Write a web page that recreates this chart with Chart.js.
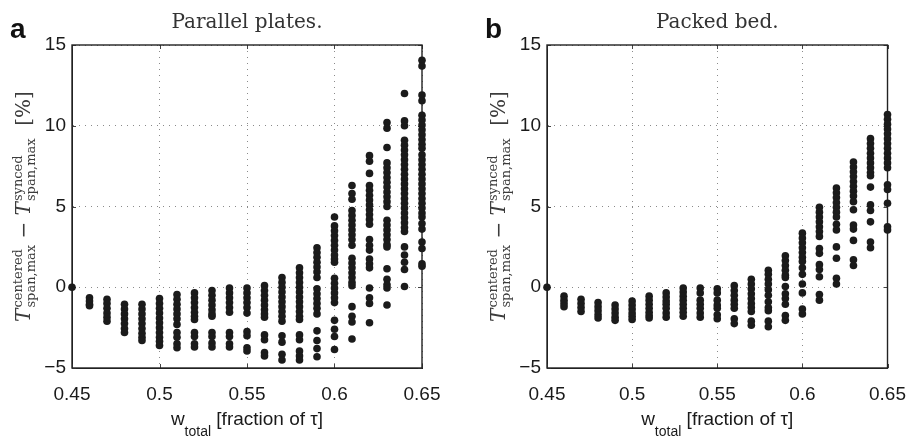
<!DOCTYPE html>
<html><head><meta charset="utf-8">
<script src="https://cdn.jsdelivr.net/npm/chart.js@4.4.0/dist/chart.umd.min.js"></script>
<style>
html,body{margin:0;padding:0;background:#fff;}
#wrap{position:relative;width:921px;height:444px;overflow:hidden;}
canvas{position:absolute;top:0;}
#ca{left:0;}
#cb{left:460px;}
</style></head><body>
<div id="wrap"><canvas id="ca" width="460" height="444"></canvas><canvas id="cb" width="461" height="444"></canvas></div>
<script>
// ---- data ----
const xCategories = [0.45,0.46,0.47,0.48,0.49,0.50,0.51,0.52,0.53,0.54,0.55,0.56,0.57,0.58,0.59,0.60,0.61,0.62,0.63,0.64,0.65];
const xTickValues = [0.45,0.5,0.55,0.6,0.65];
const xTickLabels = ['0.45','0.5','0.55','0.6','0.65'];
const yTickValues = [-5,0,5,10,15];
const yTickLabels = ['\u22125','0','5','10','15'];
const panelTitles = ['Parallel plates.','Packed bed.'];
const panelLetters = ['a','b'];

// Parallel plates: y values per x column
const platesY = [
  [0],
  [-0.65,-0.85,-1.05,-1.15],
  [-0.75,-1.0,-1.3,-1.6,-1.85,-2.1],
  [-1.05,-1.35,-1.65,-1.95,-2.25,-2.55,-2.8],
  [-1.05,-1.35,-1.65,-1.95,-2.25,-2.55,-2.85,-3.1,-3.3],
  [-0.7,-1.0,-1.3,-1.6,-1.9,-2.2,-2.5,-2.8,-3.1,-3.35,-3.6],
  [-0.45,-0.75,-1.05,-1.35,-1.65,-1.95,-2.3,-2.8,-3.1,-3.5,-3.75],
  [-0.35,-0.65,-0.95,-1.25,-1.55,-1.8,-2.0,-2.8,-3.05,-3.5,-3.7],
  [-0.2,-0.5,-0.8,-1.1,-1.4,-1.65,-1.8,-2.8,-3.05,-3.45,-3.7],
  [-0.05,-0.35,-0.65,-0.95,-1.25,-1.55,-2.8,-3.05,-3.5,-3.7],
  [-0.05,-0.35,-0.65,-0.95,-1.25,-1.6,-2.75,-3.0,-3.75,-3.95],
  [0.1,-0.2,-0.5,-0.8,-1.1,-1.4,-1.65,-1.85,-2.95,-3.25,-4.05,-4.25],
  [0.6,0.3,0.0,-0.3,-0.6,-0.9,-1.2,-1.5,-1.8,-2.1,-3.0,-3.4,-4.15,-4.5],
  [1.2,0.9,0.6,0.3,0.0,-0.3,-0.6,-0.9,-1.2,-1.5,-1.8,-2.0,-2.95,-3.25,-3.95,-4.25,-4.5],
  [2.45,2.15,1.85,1.55,1.25,0.95,0.6,-0.1,-0.4,-0.7,-1.0,-1.3,-1.65,-2.7,-3.3,-3.8,-4.3],
  [4.35,3.8,3.5,3.2,2.9,2.6,2.3,2.0,1.75,1.55,0.55,0.25,-0.05,-0.35,-0.65,-0.95,-2.05,-2.6,-3.05,-3.85],
  [6.3,5.8,5.45,4.75,4.45,4.15,3.85,3.55,3.25,2.95,2.6,1.8,1.5,1.2,0.9,0.6,0.3,0.1,-1.2,-1.8,-2.15,-3.2],
  [8.15,7.8,7.05,6.3,6.0,5.7,5.4,5.1,4.8,4.5,4.2,3.9,2.95,2.6,2.3,1.75,1.45,1.2,-0.05,-0.65,-1.0,-2.2],
  [10.2,9.85,8.65,7.7,7.4,7.1,6.8,6.5,6.2,5.9,5.6,5.3,5.0,4.15,3.85,3.55,3.25,2.95,2.65,2.5,1.15,0.5,0.15,-0.05,-1.1],
  [12.0,10.3,10.0,9.1,8.8,8.5,8.2,7.9,7.6,7.3,7.0,6.7,6.4,6.1,5.8,5.5,5.2,4.9,4.6,4.3,4.0,3.7,3.45,2.5,2.0,1.55,1.1,0.05],
  [14.05,13.7,11.9,11.55,10.65,10.35,10.05,9.75,9.45,9.15,8.85,8.6,8.2,7.9,7.6,7.3,7.0,6.7,6.4,6.1,5.8,5.5,5.2,4.9,4.6,4.35,3.95,3.6,2.8,2.4,1.45,1.3]
];

// Packed bed: y values per x column
const bedY = [
  [0],
  [-0.55,-0.8,-1.0,-1.2],
  [-0.75,-1.0,-1.25,-1.5],
  [-0.95,-1.2,-1.45,-1.7,-1.9],
  [-1.1,-1.35,-1.6,-1.85,-2.05],
  [-0.85,-1.1,-1.35,-1.6,-1.8,-2.0],
  [-0.55,-0.8,-1.05,-1.3,-1.55,-1.75,-1.9],
  [-0.35,-0.6,-0.85,-1.05,-1.3,-1.6,-1.85],
  [-0.05,-0.3,-0.55,-0.8,-1.05,-1.3,-1.55,-1.8],
  [-0.05,-0.35,-0.8,-1.05,-1.3,-1.6,-1.85],
  [-0.1,-0.35,-0.8,-1.1,-1.3,-1.7,-1.95],
  [0.1,-0.2,-0.5,-0.8,-1.05,-1.3,-1.95,-2.25],
  [0.5,0.2,-0.1,-0.4,-0.7,-1.0,-1.25,-1.5,-2.1,-2.35],
  [1.05,0.8,0.5,0.2,-0.15,-0.5,-0.9,-1.25,-1.45,-2.1,-2.45],
  [1.95,1.65,1.35,1.05,0.75,0.6,0.05,-0.4,-0.7,-1.05,-1.75,-2.05],
  [3.35,3.05,2.75,2.45,2.15,1.85,1.6,1.2,0.8,0.2,-0.35,-1.35,-1.65],
  [4.95,4.65,4.35,4.05,3.75,3.45,3.15,2.4,2.1,1.4,1.1,0.65,-0.45,-0.8],
  [6.15,5.85,5.55,5.25,4.95,4.65,4.35,3.9,3.55,2.5,1.8,0.55,0.2],
  [7.75,7.45,7.15,6.85,6.55,6.25,5.95,5.65,5.3,4.8,3.85,3.6,2.9,1.7,1.35],
  [9.2,8.9,8.6,8.3,8.0,7.7,7.4,7.1,6.9,6.2,5.1,4.75,4.05,2.8,2.45],
  [10.7,10.4,10.1,9.8,9.5,9.2,8.9,8.6,8.3,8.0,7.7,7.4,6.35,6.05,5.2,3.75,3.55]
];

// ---- rendering ----
Chart.defaults.font.family = '"Liberation Sans", Arial, sans-serif';

function toPoints(cols){
  const pts = [];
  cols.forEach((ys, i) => ys.forEach(y => pts.push({x: xCategories[i], y: y})));
  return pts;
}
function labelFor(values, labels, v){
  let best = 0;
  values.forEach((t, i) => { if (Math.abs(t - v) < Math.abs(values[best] - v)) best = i; });
  return labels[best];
}

function drawYTitle(ctx, xBase, cy){
  const big = '20px "DejaVu Serif"';
  const bigIt = 'italic 20px "DejaVu Serif"';
  const sm = '13px "DejaVu Serif"';
  const segs = [
    {t:'T', f:bigIt},
    {sup:'centered', sub:'span,max'},
    {t:' \u2212 ', f:big},
    {t:'T', f:bigIt},
    {sup:'synced', sub:'span,max'},
    {t:'  [%]', f:big}
  ];
  let total = 0;
  segs.forEach(s => {
    if (s.t) { ctx.font = s.f; s.w = ctx.measureText(s.t).width; }
    else { ctx.font = sm; s.w = Math.max(ctx.measureText(s.sup).width, ctx.measureText(s.sub).width) + 1; }
    total += s.w;
  });
  ctx.save();
  ctx.translate(xBase, cy);
  ctx.rotate(-Math.PI/2);
  ctx.fillStyle = '#3c3c3c';
  ctx.textBaseline = 'alphabetic';
  ctx.textAlign = 'left';
  let x = -total/2;
  segs.forEach(s => {
    if (s.t) { ctx.font = s.f; ctx.fillText(s.t, x, 0); }
    else {
      ctx.font = sm;
      ctx.fillText(s.sup, x + 1, -8);
      ctx.fillText(s.sub, x + 1, 5);
    }
    x += s.w;
  });
  ctx.restore();
}

function drawXTitle(ctx, cx, base){
  const mainF = '19px "Liberation Sans"';
  const subF = '14px "Liberation Sans"';
  ctx.font = mainF; const w1 = ctx.measureText('w').width;
  ctx.font = subF; const w2 = ctx.measureText('total').width;
  ctx.font = mainF; const w3 = ctx.measureText(' [fraction of \u03c4]').width;
  let x = cx - (w1 + w2 + w3)/2;
  ctx.save();
  ctx.fillStyle = '#1a1a1a';
  ctx.textBaseline = 'alphabetic';
  ctx.textAlign = 'left';
  ctx.font = mainF; ctx.fillText('w', x, base); x += w1;
  ctx.font = subF; ctx.fillText('total', x, base + 11); x += w2;
  ctx.font = mainF; ctx.fillText(' [fraction of \u03c4]', x, base);
  ctx.restore();
}

const frameCfg = {
  id: 'frame',
  beforeDatasetsDraw(chart){
    const {ctx, chartArea: a, scales} = chart;
    ctx.save();
    ctx.strokeStyle = '#444';
    ctx.lineWidth = 1;
    ctx.beginPath();
    xTickValues.forEach(v => {
      const px = Math.round(scales.x.getPixelForValue(v)) + 0.5;
      ctx.moveTo(px, a.bottom); ctx.lineTo(px, a.bottom - 4);
      ctx.moveTo(px, a.top); ctx.lineTo(px, a.top + 4);
    });
    yTickValues.forEach(v => {
      const py = Math.round(scales.y.getPixelForValue(v)) + 0.5;
      ctx.moveTo(a.left, py); ctx.lineTo(a.left + 4, py);
      ctx.moveTo(a.right, py); ctx.lineTo(a.right - 4, py);
    });
    ctx.stroke();
    ctx.strokeStyle = '#222';
    ctx.lineWidth = 1.4;
    ctx.strokeRect(a.left, a.top, a.right - a.left, a.bottom - a.top);
    ctx.restore();
  },
  afterDraw(chart, args, opts){
    const {ctx, chartArea: a} = chart;
    ctx.save();
    ctx.font = '20px "DejaVu Serif"';
    ctx.fillStyle = '#333';
    ctx.textAlign = 'center';
    ctx.textBaseline = 'alphabetic';
    ctx.fillText(opts.title, (a.left + a.right)/2, 28);
    ctx.font = 'bold 28px "Liberation Sans"';
    ctx.fillStyle = '#111';
    ctx.textAlign = 'left';
    ctx.fillText(opts.letter, opts.letterX, 38);
    ctx.restore();
    drawYTitle(ctx, opts.yTitleX, (a.top + a.bottom)/2);
    drawXTitle(ctx, (a.left + a.right)/2, 425);
  }
};

function makeChart(id, cols, idx, yWidth, rightPad, letterX, yTitleX){
  return new Chart(document.getElementById(id), {
    type: 'scatter',
    data: { datasets: [{
      data: toPoints(cols),
      pointRadius: 3.8,
      pointHoverRadius: 3.8,
      pointBackgroundColor: '#1b1b1b',
      pointBorderWidth: 0,
      clip: false
    }]},
    options: {
      responsive: false,
      animation: false,
      events: [],
      layout: { padding: { top: 45, right: rightPad, left: 0, bottom: 0 } },
      plugins: {
        legend: { display: false },
        tooltip: { enabled: false },
        frame: { title: panelTitles[idx], letter: panelLetters[idx], letterX: letterX, yTitleX: yTitleX }
      },
      scales: {
        x: {
          type: 'linear', min: 0.45, max: 0.65,
          afterBuildTicks: s => { s.ticks = xTickValues.map(v => ({value: v})); },
          afterFit: s => { s.height = 76; },
          ticks: {
            autoSkip: false, maxRotation: 0, minRotation: 0, padding: 15,
            color: '#1a1a1a', font: { size: 19 },
            callback: v => labelFor(xTickValues, xTickLabels, v)
          },
          grid: { color: '#8a8a8a', lineWidth: 1, drawTicks: false },
          border: { display: true, color: '#222', dash: [1, 5] }
        },
        y: {
          type: 'linear', min: -5, max: 15,
          afterBuildTicks: s => { s.ticks = yTickValues.map(v => ({value: v})); },
          afterFit: s => { s.width = yWidth; },
          ticks: {
            autoSkip: false, padding: 6,
            color: '#1a1a1a', font: { size: 19 },
            callback: v => labelFor(yTickValues, yTickLabels, v)
          },
          grid: { color: '#8a8a8a', lineWidth: 1, drawTicks: false },
          border: { display: true, color: '#222', dash: [1, 5] }
        }
      }
    },
    plugins: [frameCfg]
  });
}

makeChart('ca', platesY, 0, 72, 38, 10, 30);
makeChart('cb', bedY, 1, 87, 23, 25, 45);
</script>
</body></html>
